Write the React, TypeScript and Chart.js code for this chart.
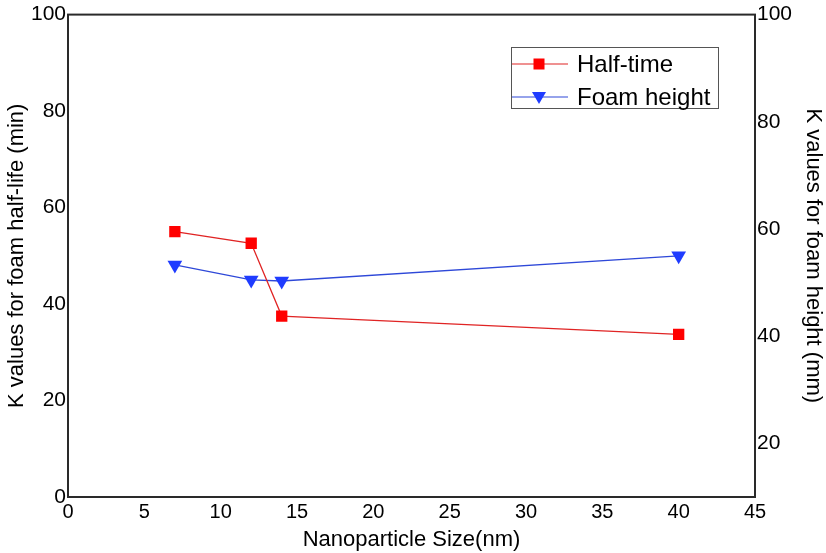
import React, { useEffect, useRef } from "react";
import { Chart, registerables } from "chart.js";

Chart.register(...registerables);

// ---- data ----
const sizes = [7, 12, 14, 40];
const halfTime = [55.0, 52.6, 37.5, 33.7];
const foamHeight = [53.3, 50.5, 50.3, 55.0];
const xTicks = [0, 5, 10, 15, 20, 25, 30, 35, 40, 45];
const leftTicks = [0, 20, 40, 60, 80, 100];
const rightTicks = [20, 40, 60, 80, 100];
const seriesNames = ["Half-time", "Foam height"];

const FONT = "'Liberation Sans', Arial, sans-serif";
const RED_LINE = "#e02424";
const RED_MARK = "#ff0000";
const BLUE_LINE = "#2e48d8";
const BLUE_MARK = "#1f3cff";

const framePlugin = {
  id: "frame",
  afterDraw(chart: any) {
    const { ctx, chartArea: a } = chart;
    ctx.save();
    ctx.strokeStyle = "#2a2a2a";
    ctx.lineWidth = 2;
    ctx.strokeRect(a.left, a.top, a.right - a.left, a.bottom - a.top);
    ctx.restore();
  },
};

const legendPlugin = {
  id: "boxLegend",
  afterDraw(chart: any) {
    const { ctx } = chart;
    const bx = 511, by = 47, bw = 207, bh = 61;
    ctx.save();
    ctx.fillStyle = "#ffffff";
    ctx.fillRect(bx, by, bw, bh);
    ctx.strokeStyle = "#555";
    ctx.lineWidth = 1;
    ctx.strokeRect(bx + 0.5, by + 0.5, bw, bh);
    const rows = chart.data.datasets;
    rows.forEach((ds: any, i: number) => {
      const cy = by + 17 + i * 33;
      ctx.strokeStyle = ds.borderColor;
      ctx.lineWidth = 1.2;
      ctx.beginPath();
      ctx.moveTo(bx + 1, cy);
      ctx.lineTo(bx + 57, cy);
      ctx.stroke();
      ctx.fillStyle = ds.pointBackgroundColor;
      const mx = bx + 28;
      if (ds.pointStyle === "rect") {
        ctx.fillRect(mx - 5.5, cy - 5.5, 11, 11);
      } else {
        ctx.beginPath();
        ctx.moveTo(mx - 7, cy - 5);
        ctx.lineTo(mx + 7, cy - 5);
        ctx.lineTo(mx, cy + 7);
        ctx.closePath();
        ctx.fill();
      }
      ctx.fillStyle = "#000";
      ctx.font = `24px ${FONT}`;
      ctx.textBaseline = "middle";
      ctx.textAlign = "left";
      ctx.fillText(ds.label, bx + 66, cy + 1);
    });
    ctx.restore();
  },
};

function setTicks(list: number[]) {
  return (scale: any) => {
    scale.ticks = list.map((v) => ({ value: v }));
  };
}

export default function App() {
  const ref = useRef<HTMLCanvasElement>(null);

  useEffect(() => {
    if (!ref.current) return;
    const chart = new Chart(ref.current, {
      type: "line",
      data: {
        datasets: [
          {
            label: seriesNames[0],
            data: sizes.map((x, i) => ({ x, y: halfTime[i] })),
            yAxisID: "y",
            borderColor: RED_LINE,
            borderWidth: 1.3,
            pointStyle: "rect",
            pointRadius: 8,
            pointBackgroundColor: RED_MARK,
            pointBorderColor: RED_MARK,
            pointBorderWidth: 0,
            tension: 0,
          },
          {
            label: seriesNames[1],
            data: sizes.map((x, i) => ({ x, y: foamHeight[i] })),
            yAxisID: "y1",
            borderColor: BLUE_LINE,
            borderWidth: 1.3,
            pointStyle: "triangle",
            pointRotation: 180,
            pointRadius: 8.5,
            pointBackgroundColor: BLUE_MARK,
            pointBorderColor: BLUE_MARK,
            pointBorderWidth: 0,
            tension: 0,
          },
        ],
      },
      options: {
        animation: false,
        responsive: false,
        devicePixelRatio: 1,
        layout: { padding: { top: 10, left: 0, right: 0, bottom: 0 } },
        plugins: { legend: { display: false }, tooltip: { enabled: false } },
        scales: {
          x: {
            type: "linear",
            min: 0,
            max: 45,
            afterBuildTicks: setTicks(xTicks),
            afterFit: (s: any) => { s.height = 56; },
            grid: { display: false, drawTicks: false, tickLength: 0 },
            border: { display: false },
            ticks: { color: "#000", font: { family: FONT, size: 20 }, padding: 3, maxRotation: 0, autoSkip: false },
            title: {
              display: true,
              text: "Nanoparticle Size(nm)",
              color: "#000",
              font: { family: FONT, size: 22 },
              padding: { top: 0, bottom: 0 },
            },
          },
          y: {
            type: "linear",
            position: "left",
            min: 0,
            max: 100,
            afterBuildTicks: setTicks(leftTicks),
            afterFit: (s: any) => { s.width = 68; },
            grid: { display: false, drawTicks: false, tickLength: 0 },
            border: { display: false },
            ticks: { color: "#000", font: { family: FONT, size: 21 }, padding: 2 },
            title: {
              display: true,
              text: "K values for foam half-life (min)",
              color: "#000",
              font: { family: FONT, size: 22 },
              padding: { top: 4, bottom: 0 },
            },
          },
          y1: {
            type: "linear",
            position: "right",
            min: 10,
            max: 100,
            afterBuildTicks: setTicks(rightTicks),
            afterFit: (s: any) => { s.width = 71; },
            grid: { display: false, drawTicks: false, tickLength: 0 },
            border: { display: false },
            ticks: { color: "#000", font: { family: FONT, size: 21 }, padding: 2 },
            title: {
              display: true,
              text: "K values for foam height (mm)",
              color: "#000",
              font: { family: FONT, size: 22 },
              padding: { top: 0, bottom: 0 },
            },
          },
        },
      },
      plugins: [framePlugin, legendPlugin],
    } as any);
    return () => chart.destroy();
  }, []);

  return (
    <div style={{ position: "absolute", left: 0, top: 0, width: 826, height: 553, background: "#fff" }}>
      <canvas ref={ref} width={826} height={553} style={{ display: "block" }} />
    </div>
  );
}
